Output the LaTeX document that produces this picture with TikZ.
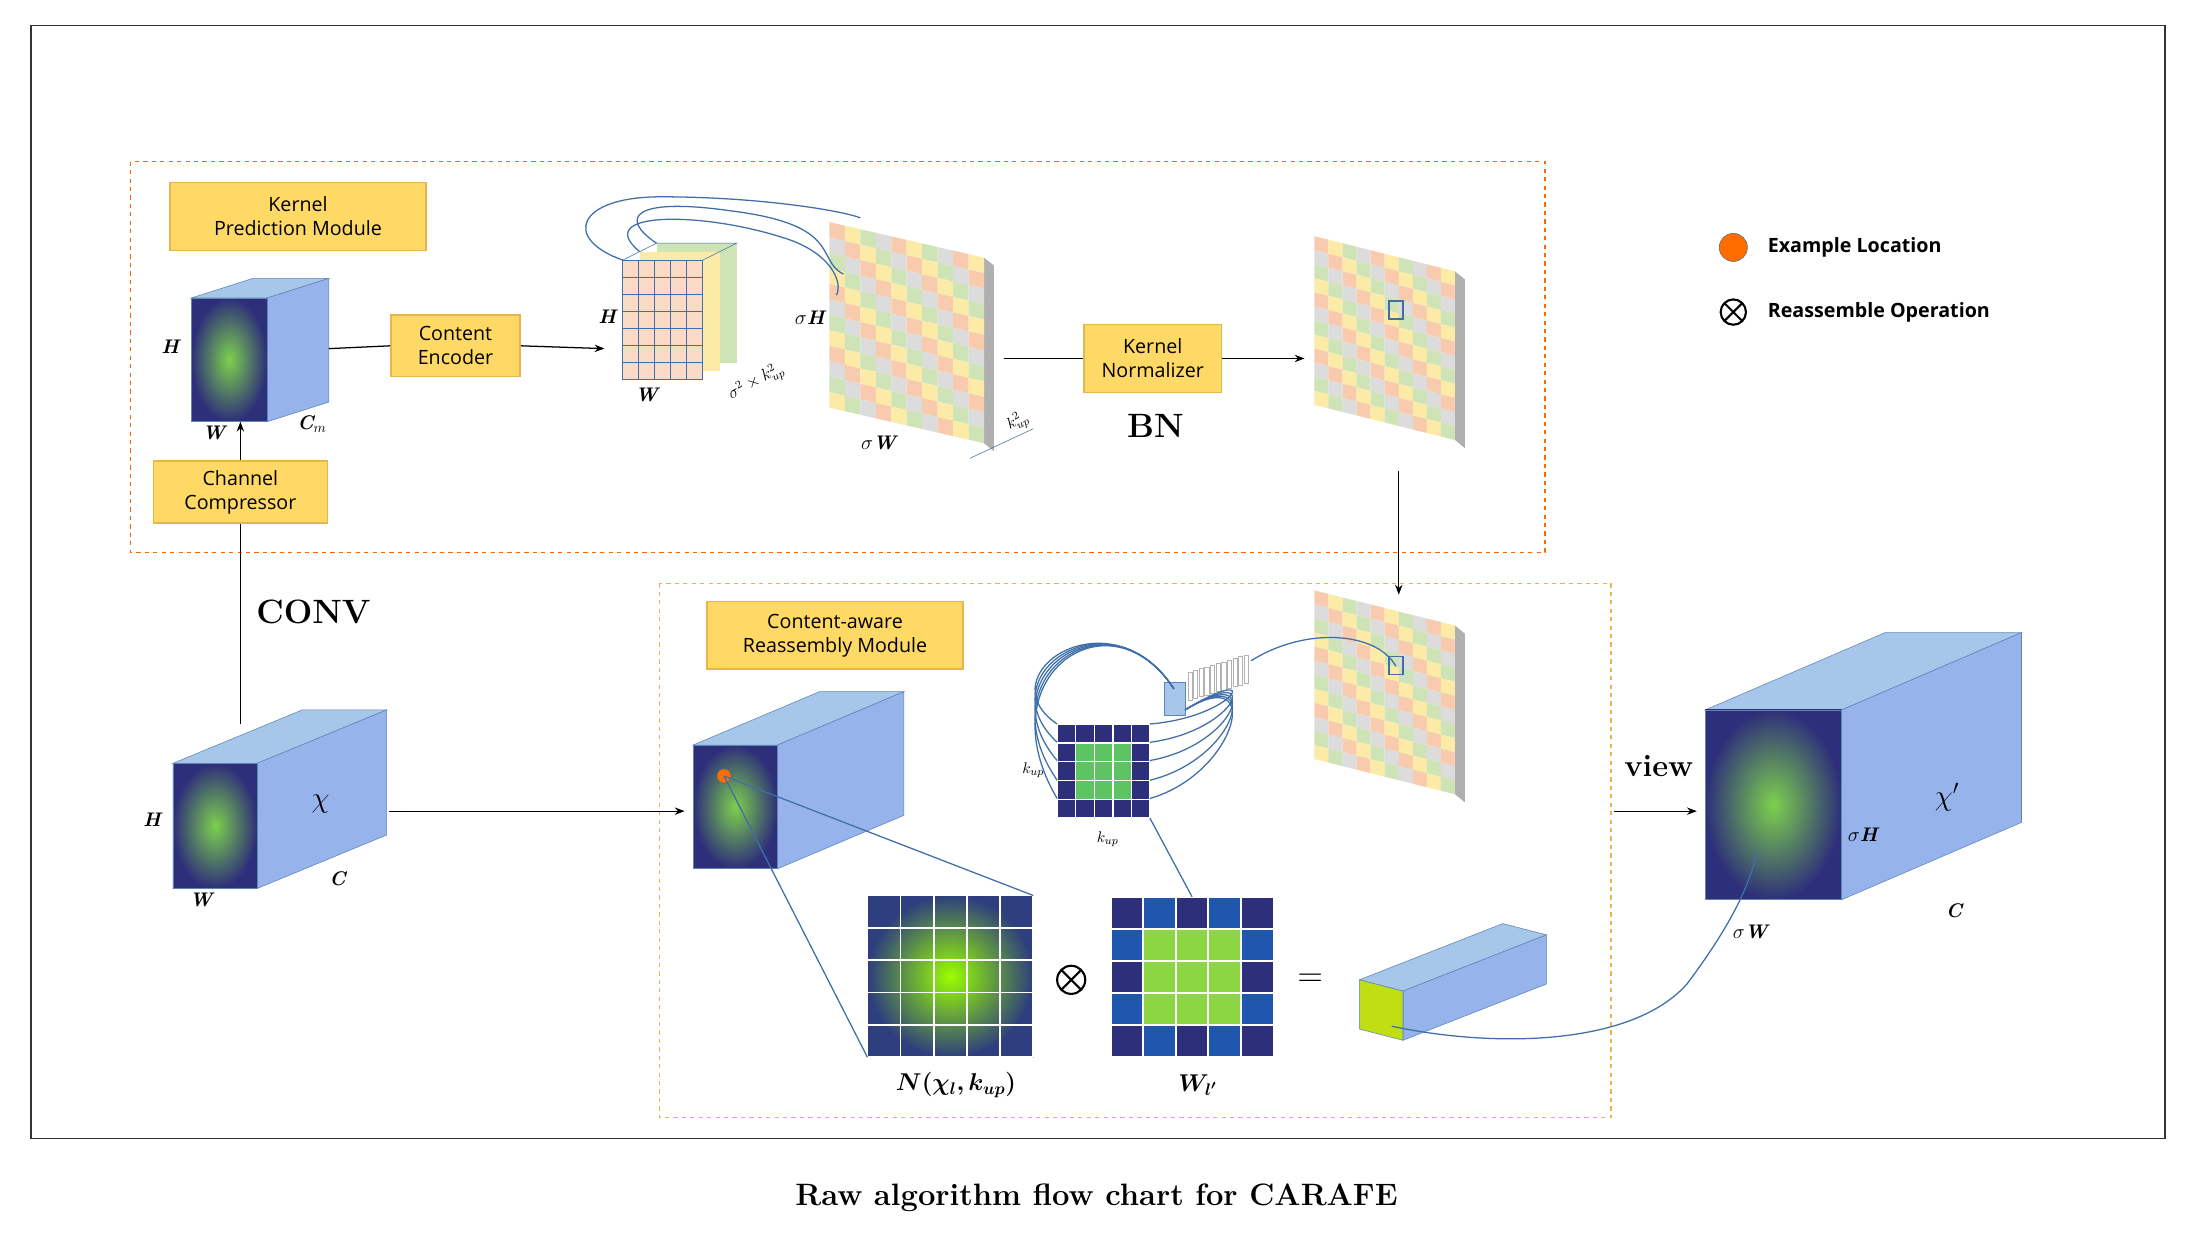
\documentclass[tikz,border=0pt]{standalone}
\usepackage{fontspec}
\usepackage{amsmath,bm}
\newfontfamily\osans{Open Sans}
\usetikzlibrary{arrows.meta,calc}
\definecolor{po}{HTML}{F9CBAE}\definecolor{py}{HTML}{FBEBA6}
\definecolor{pg}{HTML}{CFE4B6}\definecolor{pr}{HTML}{DCDCDC}
\definecolor{lbl}{HTML}{FFD966}\definecolor{lbd}{HTML}{E8B54A}
\definecolor{cb}{HTML}{A7C7EA}\definecolor{cbd}{HTML}{5E86B5}
\definecolor{wire}{HTML}{3F6FA8}
\definecolor{nv}{HTML}{2E2F7A}\definecolor{gr}{HTML}{5CC460}\definecolor{tl}{HTML}{2D7C8C}
\tikzset{lab/.style={draw=lbd,fill=lbl,line width=1pt,font=\osans\fontsize{14}{17}\selectfont,align=center,inner sep=2pt},
 arr/.style={-{Stealth[length=7pt]},line width=0.9pt},
 ln/.style={line width=0.9pt},
 it/.style={font=\bfseries\itshape\fontsize{14}{16}\selectfont},
 wr/.style={draw=wire,line width=0.9pt}}
\newcommand\mycube[6]{% x y w h dx dy
 \fill[cb,draw=cbd] (#1,#2) -- ++(#5,#6) -- ++(#3,0) -- ++(-#5,-#6) -- cycle;
 \fill[cb!90!blue,draw=cbd] (#1+#3,#2) -- ++(#5,#6) -- ++(0,#4) -- ++(-#5,-#6) -- cycle;
 \shade[inner color=gr!80!yellow,outer color=nv,draw=cbd] (#1,#2) rectangle ++(#3,#4);}
\newcommand\panel[6]{% x y cols rows cell slant
 \begin{scope}[shift={(#1,#2)},yslant=#6]
 \fill[pr!80!black] (#3*#5,0) -- ++(7,4) -- ++(0,#4*#5) -- ++(-7,-4) -- cycle;
 \foreach \i in {1,...,#3}{\foreach \j in {1,...,#4}{
  \pgfmathtruncatemacro\k{mod(\i+3*\j,4)}
  \pgfmathsetmacro\c{{"po","py","pg","pr"}[\k]}
  \fill[\c] ({(\i-1)*#5},{(\j-1)*#5}) rectangle ++(#5,#5);}}
 \end{scope}}
\begin{document}
\begin{tikzpicture}[x=1pt,y=-1pt]
\useasboundingbox (0,0) rectangle (1560,893);
\fill[white] (0,0) rectangle (1560,893);
\draw[line width=1pt,black!80] (22,18) rectangle (1540,810);
\node[font=\bfseries\fontsize{22}{26}\selectfont] (cap) at (780,852) {Raw algorithm flow chart for CARAFE};
\draw[orange!80!red,dashed,line width=1pt] (93,115) rectangle (1099,393);
\draw[lbd,dashed,line width=1pt] (469,415) rectangle (1146,795);
% labels
\node[lab,minimum width=182,minimum height=48] (kpm) at (212,154) {Kernel\\Prediction Module};
\node[lab,minimum width=92,minimum height=44] (ce) at (324,246) {Content\\Encoder};
\node[lab,minimum width=124,minimum height=44] (cc) at (171,350) {Channel\\Compressor};
\node[lab,minimum width=98,minimum height=48] (kn) at (820,255) {Kernel\\Normalizer};
\node[lab,minimum width=182,minimum height=48] (cam) at (594,452) {Content-aware\\Reassembly Module};
% cubes
\mycube{136}{212}{54}{88}{44}{-14}
\node[it] at (121,247) {H};\node[it] at (152,308) {W};\node[it] at (222,302) {C$_m$};
\mycube{123}{543}{60}{89}{92}{-38}
\node[font=\bfseries\fontsize{20}{22}\selectfont] at (228,572) {$\chi$};
\node[it] at (108,583) {H};\node[it] at (143,640) {W};\node[it] at (240,625) {C};
\mycube{493}{530}{60}{88}{90}{-38}
\fill[orange!85!red,draw=black!60] (515,552) circle (5);
\mycube{1213}{505}{97}{135}{128}{-55}
\node[it] at (1325,594) {$\sigma$H};\node[it] at (1245,663) {$\sigma$W};\node[it] at (1390,648) {C};
\node[font=\bfseries\fontsize{22}{24}\selectfont] at (1385,567) {$\chi'$};
% tensor grid
\fill[pg] (467,173) rectangle ++(57,85);
\fill[py] (455,179) rectangle ++(57,85);
\fill[po!70!white] (443,185) rectangle ++(57,85);
\foreach \i in {0,...,5}{\draw[wire,line width=0.7pt] (443+\i*11.4,185) -- ++(0,85);}
\foreach \j in {0,...,7}{\draw[wire,line width=0.7pt] (443,185+\j*12.1) -- ++(57,0);}
\draw[wire] (443,185) -- (467,173) -- (524,173) -- (500,185);
\node[it] at (432,225) {H};\node[it] at (460,281) {W};
\node[it,rotate=28,font=\bfseries\itshape\fontsize{12}{14}\selectfont] at (538,272) {$\sigma^2\times k_{up}^2$};
% panels
\panel{590}{158}{10}{12}{11}{-0.23}
\node[it] at (576,226) {$\sigma$H};\node[it] at (625,315) {$\sigma$W};
\draw[wire] (690,326) -- (735,305);
\node[it,rotate=28,font=\bfseries\itshape\fontsize{11}{13}\selectfont] at (724,300) {$k_{up}^2$};
\panel{935}{168}{10}{12}{10}{-0.25}
\draw[wire,line width=1pt] (988,214) rectangle ++(10,13);
\panel{935}{420}{10}{12}{10}{-0.25}
\draw[wire,line width=1pt] (988,467) rectangle ++(10,13);
% wires top
\draw[wr] (443,185) .. controls (400,170) and (410,140) .. (470,140) .. controls (540,140) and (600,150) .. (612,155);
\draw[wr] (455,179) .. controls (420,150) and (500,150) .. (560,170) .. controls (590,180) and (600,200) .. (595,210);
\draw[wr] (467,173) .. controls (440,155) and (450,140) .. (520,150) .. controls (600,160) and (580,185) .. (600,195);
% arrows top
\coordinate (c1r) at (234,248);
\draw[ln] (c1r) -- (ce.west);
\draw[arr] (ce.east) -- (430,248);
\draw[ln] (714,255) -- (kn.west);
\draw[arr] (kn.east) -- (928,255);
\node[font=\bfseries\fontsize{24}{26}\selectfont] (bn) at (822,303) {BN};
\draw[arr] (995,335) -- (995,423);
\draw[ln] (171,515) -- (cc.south);
\draw[arr] (cc.north) -- (171,300);
\node[font=\bfseries\fontsize{24}{26}\selectfont] (conv) at (223,435) {CONV};
\draw[arr] (277,577) -- (487,577);
\draw[arr] (1148,577) -- (1207,577);
\node[font=\bfseries\fontsize{22}{24}\selectfont] (view) at (1180,545) {view};
% legend
\fill[orange!85!red,draw=black!60] (1233,176) circle (10);
\node[font=\osans\bfseries\fontsize{14}{16}\selectfont,anchor=west] at (1254,176) {Example Location};
\draw[line width=1.5pt] (1233,222) circle (9) (1226.6,215.6) -- (1239.4,228.4) (1239.4,215.6) -- (1226.6,228.4);
\node[font=\osans\bfseries\fontsize{14}{16}\selectfont,anchor=west] at (1254,222) {Reassemble Operation};
% kernel grid
\foreach \i in {0,...,4}{\foreach \j in {0,...,4}{
 \pgfmathsetmacro\c{(\i>0 && \i<4 && \j>0 && \j<4) ? "gr" : "nv"}
 \fill[\c,draw=white,line width=1pt] (752+\i*13.2,515+\j*13.4) rectangle ++(13.2,13.4);}}
\node[it,font=\bfseries\itshape\fontsize{11}{12}\selectfont] at (735,548) {$k_{up}$};
\node[it,font=\bfseries\itshape\fontsize{11}{12}\selectfont] at (788,597) {$k_{up}$};
% small slice stack
\foreach \s in {0,...,10}{\draw[gray!60,fill=white] (845+\s*4,478-\s*1.2) rectangle ++(3,20);}
\fill[cb,draw=cbd] (828,485) rectangle ++(15,24);
\draw[wr] (890,470) .. controls (930,445) and (980,450) .. (993,474);
\foreach \o/\e in {0/10,13/20,26/30,40/40,53/50}{
 \draw[wr] (752,515+\o) .. controls (700,480) and (790,420) .. (835,490);
 \draw[wr] (818,515+\o) .. controls (880,\e+500) and (900,470) .. (843,505);}
% bottom grids
\shade[inner color=yellow!60!green,outer color=nv!80!tl] (617,637) rectangle (735,752);
\foreach \i in {0,...,5}{\draw[white,line width=1.2pt] (617+\i*23.6,637) -- ++(0,115);}
\foreach \j in {0,...,5}{\draw[white,line width=1.2pt] (617,637+\j*23) -- ++(118,0);}
\draw[wr] (515,552) -- (617,752); \draw[wr] (515,552) -- (735,637);
\draw[line width=1.5pt] (762,697) circle (10) (754.9,689.9) -- (769.1,704.1) (769.1,689.9) -- (754.9,704.1);
\foreach \i in {0,...,4}{\foreach \j in {0,...,4}{
 \pgfmathsetmacro\c{(\i>0 && \i<4 && \j>0 && \j<4) ? "gr!70!yellow" : (mod(\i+\j,2)==0 ? "nv" : "tl!70!blue")}
 \fill[\c,draw=white,line width=1.5pt] (790+\i*23.2,638+\j*22.8) rectangle ++(23.2,22.8);}}
\draw[wr] (818,582) -- (848,638);
\node[font=\fontsize{26}{26}\selectfont] (eq) at (932,697) {$=$};
\node[font=\fontsize{18}{20}\selectfont] at (680,772) {$\bm{N(\chi_l,k_{up})}$};
\node[font=\bfseries\fontsize{18}{20}\selectfont] at (852,772) {$\bm{W_{l'}}$};
% output column
\fill[cb,draw=cbd] (967,697) -- ++(102,-40) -- ++(31,8) -- ++(-102,40) -- cycle;
\fill[cb!90!blue,draw=cbd] (998,705) -- ++(102,-40) -- ++(0,35) -- ++(-102,40) -- cycle;
\fill[yellow!75!green,draw=cbd] (967,697) -- (998,705) -- (998,740) -- (967,732) -- cycle;
\draw[wr] (990,730) .. controls (1060,745) and (1160,745) .. (1200,700) .. controls (1230,660) and (1245,630) .. (1250,605);
\end{tikzpicture}
\end{document}
